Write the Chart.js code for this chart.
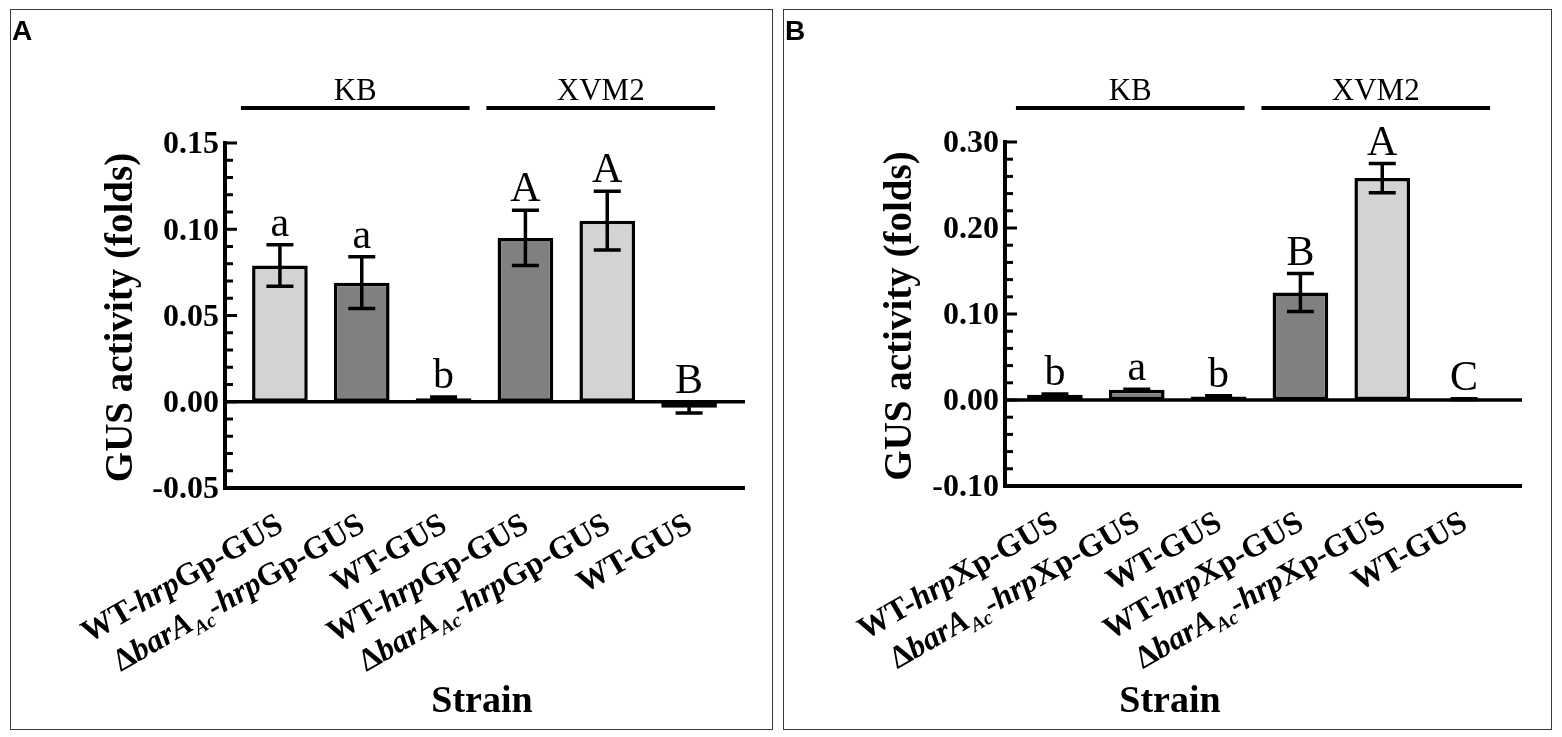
<!DOCTYPE html>
<html>
<head>
<meta charset="utf-8">
<script src="https://cdn.jsdelivr.net/npm/chart.js@4.4.1/dist/chart.umd.min.js"></script>
<style>
  html, body { margin: 0; padding: 0; background: #fff; }
  body { width: 1562px; height: 737px; position: relative; overflow: hidden; }
  .panel { position: absolute; top: 9px; height: 719px; border: 1px solid #3a3a3a; }
  #panelA { left: 10px; width: 761px; }
  #panelB { left: 783px; width: 767px; }
</style>
</head>
<body>
<div class="panel" id="panelA"><canvas id="chartA"></canvas></div>
<div class="panel" id="panelB"><canvas id="chartB"></canvas></div>
<script>
// Panel A - hrpG promoter
const labelsA = ['WT-<i>hrp</i>Gp-GUS', 'Δ<i>barA</i><sub>Ac</sub>-<i>hrp</i>Gp-GUS', 'WT-GUS',
                 'WT-<i>hrp</i>Gp-GUS', 'Δ<i>barA</i><sub>Ac</sub>-<i>hrp</i>Gp-GUS', 'WT-GUS'];
const meanA = [0.079, 0.069, 0.002, 0.095, 0.105, -0.0035];
const sdA = [0.012, 0.015, 0.0008, 0.016, 0.017, 0.003];
const lettersA = ['a', 'a', 'b', 'A', 'A', 'B'];
const fillA = ['#d3d3d3', '#808080', '#808080', '#808080', '#d3d3d3', '#808080'];
const yTicksA = [-0.05, 0.00, 0.05, 0.10, 0.15];

// Panel B - hrpX promoter
const labelsB = ['WT-<i>hrp</i>Xp-GUS', 'Δ<i>barA</i><sub>Ac</sub>-<i>hrp</i>Xp-GUS', 'WT-GUS',
                 'WT-<i>hrp</i>Xp-GUS', 'Δ<i>barA</i><sub>Ac</sub>-<i>hrp</i>Xp-GUS', 'WT-GUS'];
const meanB = [0.006, 0.012, 0.004, 0.125, 0.258, 0.001];
const sdB = [0.001, 0.0005, 0.001, 0.022, 0.017, 0.0005];
const lettersB = ['b', 'a', 'b', 'B', 'A', 'C'];
const fillB = ['#d3d3d3', '#808080', '#808080', '#808080', '#d3d3d3', '#808080'];
const yTicksB = [-0.10, 0.00, 0.10, 0.20, 0.30];

const groupNames = ['KB', 'XVM2'];
const groupSpans = [[0, 2], [3, 5]];

const SERIF = '"Liberation Serif", "Times New Roman", serif';
const SANS = '"Liberation Sans", Arial, sans-serif';

function parseRich(s) {
    const out = [];
    const re = /<(i|sub)>(.*?)<\/\1>|([^<]+)/g;
    let m;
    while ((m = re.exec(s))) {
        if (m[3]) out.push({ t: m[3], k: 'n' });
        else out.push({ t: m[2], k: m[1] });
    }
    return out;
}

function plainLabel(s) {
    return s.replace(/<[^>]+>/g, '');
}

function segFont(k) {
    if (k === 'i') return 'italic bold 32px ' + SERIF;
    if (k === 'sub') return 'italic bold 20px ' + SERIF;
    return 'bold 32px ' + SERIF;
}

// drawing of axes, error bars, letters and texts
function figurePlugin(p) {
    return {
        id: 'figure' + p.letter,
        afterDatasetsDraw(chart) {
            const ctx = chart.ctx;
            const xs = chart.scales.x, ys = chart.scales.y;
            const yTop = ys.getPixelForValue(p.ticks[p.ticks.length - 1]);
            const yBot = ys.getPixelForValue(p.ticks[0]);
            const y0 = ys.getPixelForValue(0);
            ctx.save();
            ctx.strokeStyle = '#000';
            ctx.fillStyle = '#000';
            ctx.lineCap = 'butt';

            // zero line
            ctx.lineWidth = 3.5;
            ctx.beginPath();
            ctx.moveTo(p.axisX, y0);
            ctx.lineTo(p.axisEnd, y0);
            ctx.stroke();

            // axes
            ctx.lineWidth = 4;
            ctx.beginPath();
            ctx.moveTo(p.axisX, yTop - 2);
            ctx.lineTo(p.axisX, yBot + 2);
            ctx.moveTo(p.axisX - 2, yBot);
            ctx.lineTo(p.axisEnd, yBot);
            ctx.stroke();

            // y ticks (major + 4 minor)
            ctx.lineWidth = 3;
            const step = p.ticks[1] - p.ticks[0];
            for (let i = 0; i < p.ticks.length; i++) {
                const ty = ys.getPixelForValue(p.ticks[i]);
                ctx.beginPath();
                ctx.moveTo(p.axisX, ty);
                ctx.lineTo(p.axisX + 12, ty);
                ctx.stroke();
                if (i < p.ticks.length - 1) {
                    for (let k = 1; k < 5; k++) {
                        const my = ys.getPixelForValue(p.ticks[i] + step * k / 5);
                        ctx.beginPath();
                        ctx.moveTo(p.axisX, my);
                        ctx.lineTo(p.axisX + 8, my);
                        ctx.stroke();
                    }
                }
            }

            // y tick labels
            ctx.font = 'bold 32px ' + SERIF;
            ctx.textAlign = 'right';
            ctx.textBaseline = 'middle';
            p.ticks.forEach(v => {
                ctx.fillText(v.toFixed(2), p.axisX - 6, ys.getPixelForValue(v) + 2);
            });

            // error bars
            ctx.lineWidth = 3.5;
            p.mean.forEach((m, i) => {
                const cx = xs.getPixelForValue(i);
                const t = ys.getPixelForValue(m + p.sd[i]);
                const b = ys.getPixelForValue(m - p.sd[i]);
                ctx.beginPath();
                ctx.moveTo(cx, t);
                ctx.lineTo(cx, b);
                ctx.moveTo(cx - 13.5, t);
                ctx.lineTo(cx + 13.5, t);
                ctx.moveTo(cx - 13.5, b);
                ctx.lineTo(cx + 13.5, b);
                ctx.stroke();
            });

            // significance letters
            ctx.font = '42px ' + SERIF;
            ctx.textAlign = 'center';
            ctx.textBaseline = 'alphabetic';
            p.mean.forEach((m, i) => {
                const cx = xs.getPixelForValue(i);
                const t = Math.min(ys.getPixelForValue(m + p.sd[i]), ys.getPixelForValue(m), y0);
                ctx.fillText(p.letters[i], cx, t - 9);
            });

            // group brackets
            ctx.font = '31px ' + SERIF;
            ctx.lineWidth = 4;
            groupSpans.forEach((g, j) => {
                const a = xs.getPixelForValue(g[0]) - 39;
                const b = xs.getPixelForValue(g[1]) + 26;
                ctx.beginPath();
                ctx.moveTo(a, 98);
                ctx.lineTo(b, 98);
                ctx.stroke();
                ctx.fillText(groupNames[j], (a + b) / 2, 90);
            });

            // x tick labels, rotated rich text
            p.labels.forEach((lab, i) => {
                const segs = parseRich(lab);
                let total = 0;
                segs.forEach(s => { ctx.font = segFont(s.k); s.w = ctx.measureText(s.t).width; total += s.w; });
                ctx.save();
                ctx.translate(xs.getPixelForValue(i) + 5, yBot + 42);
                ctx.rotate(-30 * Math.PI / 180);
                ctx.textAlign = 'left';
                ctx.textBaseline = 'alphabetic';
                let xx = -total;
                segs.forEach(s => {
                    ctx.font = segFont(s.k);
                    ctx.fillText(s.t, xx, s.k === 'sub' ? 7 : 0);
                    xx += s.w;
                });
                ctx.restore();
            });

            // axis titles
            ctx.font = 'bold 38px ' + SERIF;
            ctx.textAlign = 'center';
            ctx.fillText('Strain', p.strainX, 702);

            ctx.save();
            ctx.translate(p.titleX, (yTop + yBot) / 2 + 2);
            ctx.rotate(-Math.PI / 2);
            ctx.font = 'bold 39px ' + SERIF;
            ctx.fillText('GUS activity (folds)', 0, 0);
            ctx.restore();

            // panel letter
            ctx.font = 'bold 28px ' + SANS;
            ctx.textAlign = 'left';
            ctx.fillText(p.letter, 1, 30);

            ctx.restore();
        }
    };
}

function makePanel(id, p) {
    const ctx = document.getElementById(id);
    return new Chart(ctx, {
        type: 'bar',
        data: {
            labels: p.labels.map(plainLabel),
            datasets: [{
                data: p.mean,
                backgroundColor: p.fill,
                borderColor: '#000',
                borderWidth: 3.5,
                borderSkipped: false,
                categoryPercentage: 1,
                barPercentage: 0.68
            }]
        },
        options: {
            responsive: true,
            maintainAspectRatio: false,
            animation: false,
            layout: { padding: p.pad },
            plugins: { legend: { display: false }, tooltip: { enabled: false } },
            scales: {
                x: { type: 'category', display: false, offset: true },
                y: { display: false, min: p.ticks[0], max: p.ticks[p.ticks.length - 1] }
            }
        },
        plugins: [figurePlugin(p)]
    });
}

makePanel('chartA', {
    letter: 'A', labels: labelsA, mean: meanA, sd: sdA, letters: lettersA, fill: fillA, ticks: yTicksA,
    pad: { left: 228, right: 42, top: 133, bottom: 241 },
    axisX: 214, axisEnd: 734, titleX: 121, strainX: 471
});

makePanel('chartB', {
    letter: 'B', labels: labelsB, mean: meanB, sd: sdB, letters: lettersB, fill: fillB, ticks: yTicksB,
    pad: { left: 230, right: 46, top: 132, bottom: 243 },
    axisX: 221, axisEnd: 738, titleX: 127, strainX: 386
});
</script>
</body>
</html>
